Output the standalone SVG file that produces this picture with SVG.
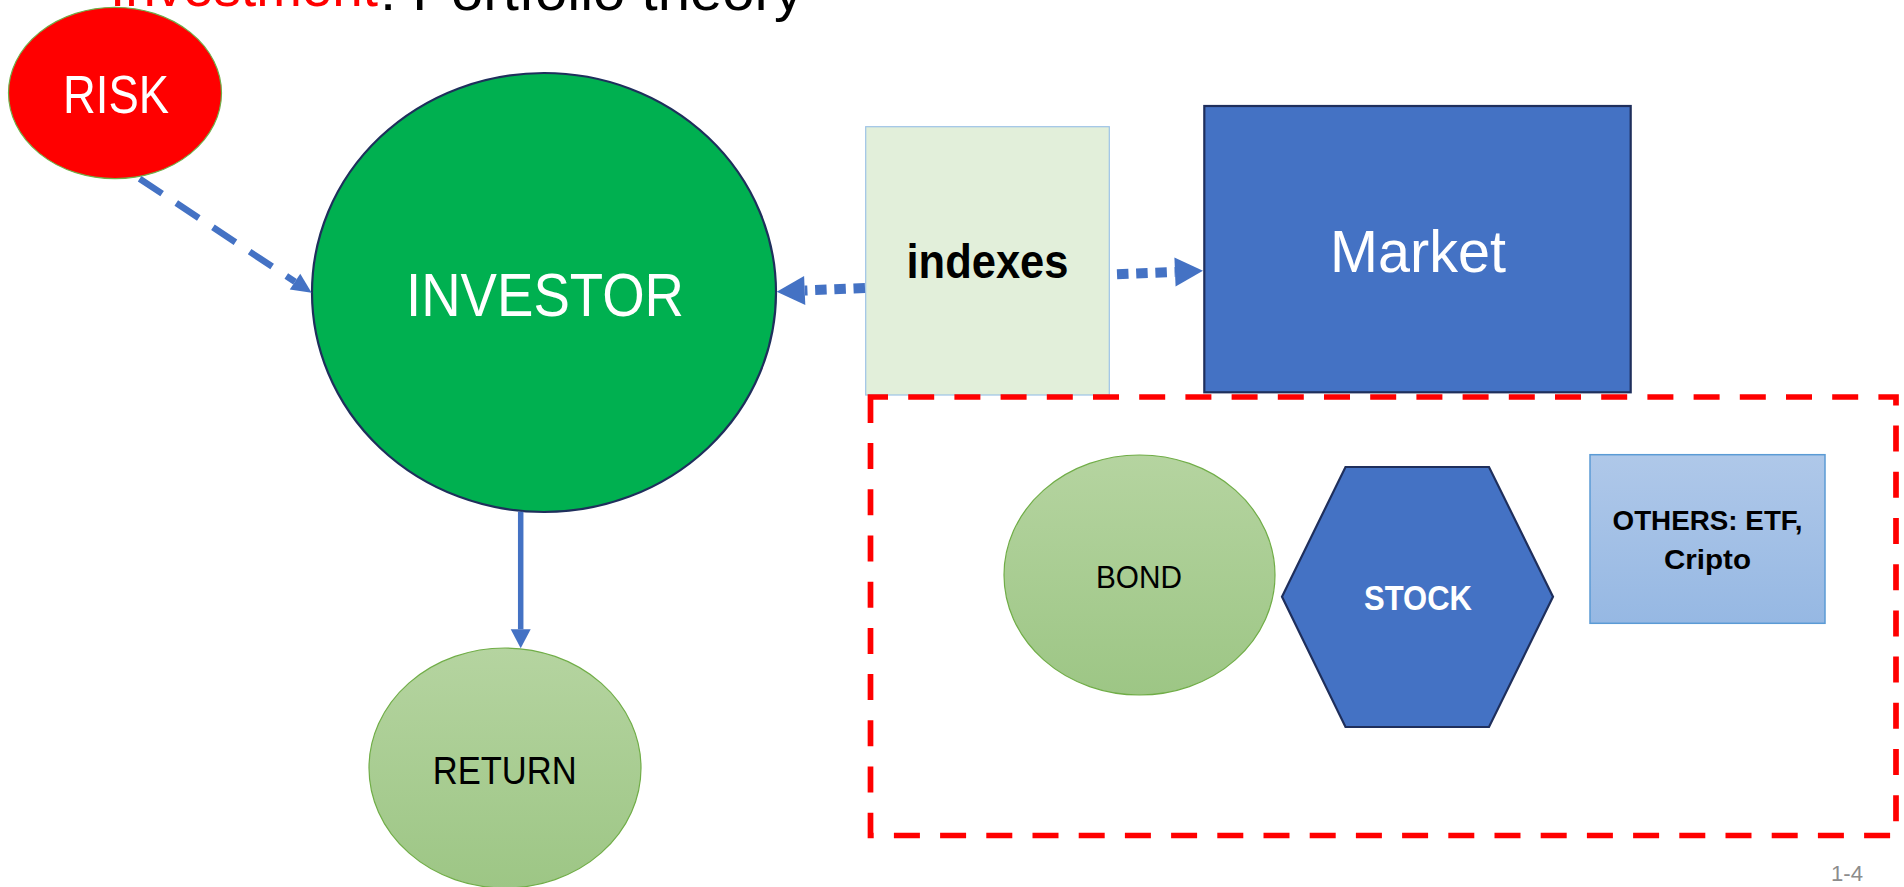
<svg xmlns="http://www.w3.org/2000/svg" width="1904" height="887" viewBox="0 0 1904 887">
<style>
  text { font-family: "Liberation Sans", Arial, sans-serif; }
  .w { fill: #FFFFFF; }
  .k { fill: #000000; }
  .b { font-weight: bold; }
  .c { text-anchor: middle; }
  .conn { fill: none; stroke: #4472C4; }
</style>
<defs>
  <linearGradient id="gGreen" x1="0" y1="0" x2="0" y2="1">
    <stop offset="0" stop-color="#B5D4A0"/>
    <stop offset="1" stop-color="#9DC685"/>
  </linearGradient>
  <linearGradient id="gBlue" x1="0" y1="0" x2="0" y2="1">
    <stop offset="0" stop-color="#AFC8E9"/>
    <stop offset="1" stop-color="#96B8E3"/>
  </linearGradient>
  <marker id="headBig" markerUnits="userSpaceOnUse" orient="auto" refX="0" refY="0" markerWidth="30" markerHeight="30" overflow="visible">
    <path d="M0,-14.5 L28,0 L0,14.5 Z" fill="#4472C4"/>
  </marker>
  <marker id="headMid" markerUnits="userSpaceOnUse" orient="auto" refX="0" refY="0" markerWidth="20" markerHeight="20" overflow="visible">
    <path d="M0,-10 L19,0 L0,10 Z" fill="#4472C4"/>
  </marker>
  <marker id="headSmall" markerUnits="userSpaceOnUse" orient="auto" refX="0" refY="0" markerWidth="20" markerHeight="20" overflow="visible">
    <path d="M0,-9.5 L20,0 L0,9.5 Z" fill="#4472C4"/>
  </marker>
</defs>

<rect x="0" y="0" width="1904" height="887" fill="#FFFFFF"/>

<g id="title">
  <text font-size="56"><tspan x="110" y="6" fill="#FF0000" textLength="268" lengthAdjust="spacingAndGlyphs">Investment</tspan><tspan x="380" y="10" fill="#000000" textLength="423" lengthAdjust="spacingAndGlyphs">: Portfolio theory</tspan></text>
</g>

<g id="risk">
  <ellipse cx="115" cy="93" rx="106.5" ry="85.7" fill="#FF0000" stroke="#70AD47" stroke-width="1.2"/>
  <text class="w c" x="116" y="113" font-size="54" textLength="106" lengthAdjust="spacingAndGlyphs">RISK</text>
</g>

<g id="investor">
  <ellipse cx="544" cy="292.5" rx="232" ry="219.5" fill="#00B050" stroke="#1F2F5C" stroke-width="2.2"/>
  <text class="w c" x="545" y="316" font-size="61.5" textLength="278" lengthAdjust="spacingAndGlyphs">INVESTOR</text>
</g>

<g id="return">
  <ellipse cx="505" cy="768" rx="136" ry="120" fill="url(#gGreen)" stroke="#70AD47" stroke-width="1.2"/>
  <text class="k c" x="504.7" y="784" font-size="39" textLength="144" lengthAdjust="spacingAndGlyphs">RETURN</text>
</g>

<g id="indexes">
  <rect x="865.7" y="126.7" width="243.6" height="268.3" fill="#E2EFDA" stroke="#9DC3E6" stroke-width="1.2"/>
  <text class="k c b" x="987.5" y="278.3" font-size="49" textLength="162" lengthAdjust="spacingAndGlyphs">indexes</text>
</g>

<g id="market">
  <rect x="1204.3" y="106" width="426.4" height="286.3" fill="#4472C4" stroke="#1F2F5C" stroke-width="2.2"/>
  <text class="w c" x="1418" y="271.5" font-size="59" textLength="176" lengthAdjust="spacingAndGlyphs">Market</text>
</g>

<g id="bond">
  <ellipse cx="1139.5" cy="575" rx="135.5" ry="120" fill="url(#gGreen)" stroke="#70AD47" stroke-width="1.2"/>
  <text class="k c" x="1139" y="588" font-size="31" textLength="86" lengthAdjust="spacingAndGlyphs">BOND</text>
</g>

<g id="stock">
  <polygon points="1345.5,467 1489,467 1553,596.7 1489,727 1345.5,727 1282,596.7" fill="#4472C4" stroke="#1F2F5C" stroke-width="2.2"/>
  <text class="w c b" x="1418" y="610" font-size="35" textLength="108" lengthAdjust="spacingAndGlyphs">STOCK</text>
</g>

<g id="others">
  <rect x="1590" y="454.7" width="235" height="168.6" fill="url(#gBlue)" stroke="#5B9BD5" stroke-width="1.5"/>
  <text class="k c b" font-size="27.4"><tspan x="1707.5" y="529.5" textLength="190" lengthAdjust="spacingAndGlyphs">OTHERS: ETF,</tspan><tspan x="1707.5" y="568.5" textLength="87" lengthAdjust="spacingAndGlyphs">Cripto</tspan></text>
</g>

<g id="group-boundary">
  <rect x="870.5" y="397" width="1025.5" height="438.5" fill="none" stroke="#FF0000" stroke-width="5.7" stroke-dasharray="26 20.2" stroke-dashoffset="8.5"/>
</g>

<g id="connectors">
  <line class="conn" x1="139.6" y1="178.7" x2="295" y2="281.7" stroke-width="6.5" stroke-dasharray="27 17" marker-end="url(#headSmall)"/>
  <line class="conn" x1="520.7" y1="511.7" x2="520.7" y2="629.3" stroke-width="5.5" marker-end="url(#headMid)"/>
  <line class="conn" x1="865" y1="288" x2="804.7" y2="290.5" stroke-width="10" stroke-dasharray="11.5 7.7" marker-end="url(#headBig)"/>
  <line class="conn" x1="1117" y1="274.3" x2="1175" y2="271.9" stroke-width="10" stroke-dasharray="11.5 7.7" marker-end="url(#headBig)"/>
</g>

<g id="page-number">
  <text x="1847" y="881" class="c" font-size="22" fill="#8C8C8C" textLength="32" lengthAdjust="spacingAndGlyphs">1-4</text>
</g>
</svg>
